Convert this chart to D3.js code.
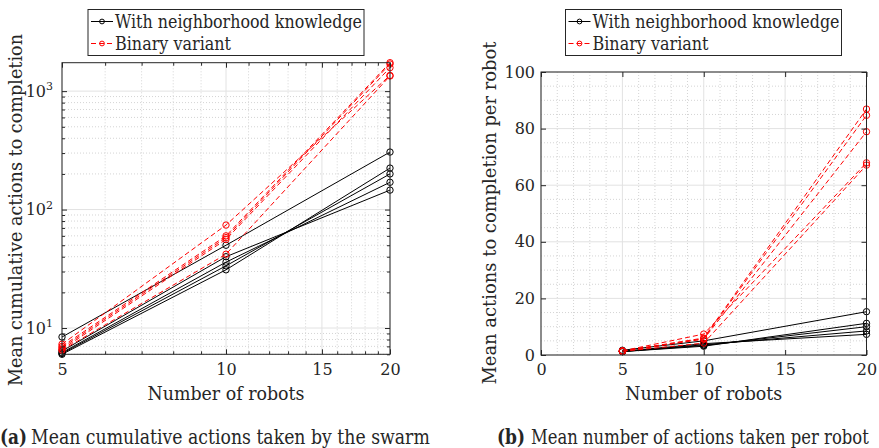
<!DOCTYPE html>
<html>
<head>
<meta charset="utf-8">
<script src="https://cdn.jsdelivr.net/npm/d3@7"></script>
<style>
  body { margin: 0; background: #fff; }
  svg { display: block; }
</style>
</head>
<body>
<svg id="chart" width="879" height="448"></svg>
<script>
const robots = [5, 10, 20]

// (a) mean cumulative actions, one row per run
const neighTotal = [
    [8.4, 50, 306],
    [6.4, 40, 146],
    [6.2, 36, 170],
    [6.1, 33.5, 200],
    [6.0, 31, 224],
]
const binaryTotal = [
    [7.3, 74, 1358],
    [7.0, 60, 1738],
    [6.8, 58, 1694],
    [6.6, 56, 1578],
    [6.5, 42, 1342],
]

// (b) mean actions per robot
const neighPerRobot = [
    [1.68, 5.0, 15.3],
    [1.28, 4.0, 7.3],
    [1.24, 3.6, 8.5],
    [1.22, 3.35, 10.0],
    [1.2, 3.1, 11.2],
]
const binaryPerRobot = [
    [1.46, 7.4, 67.9],
    [1.4, 6.0, 86.9],
    [1.36, 5.8, 84.7],
    [1.32, 5.6, 78.9],
    [1.3, 4.2, 67.1],
]

const legendLabels = ['With neighborhood knowledge', 'Binary variant']
const xTicksA = [5, 10, 15, 20]
const yTicksA = [10, 100, 1000]
const xTicksB = [0, 5, 10, 15, 20]
const yTicksB = [0, 20, 40, 60, 80, 100]

const axisColor = '#262626'
const red = '#ff0000'
const serif = 'DejaVu Serif'

const svg = d3.select('#chart')

function drawPanel(cfg) {
    const { x, y, xMajor, xMinor, yMajor, yMinor, logY } = cfg
    const [x0, x1] = x.range()
    const [y0, y1] = y.range()
    const g = svg.append('g')

    // grid: minor dotted, major solid
    const grid = g.append('g')
    grid.selectAll('.vminor').data(xMinor).join('line')
        .attr('x1', d => x(d)).attr('x2', d => x(d)).attr('y1', y0).attr('y2', y1)
        .attr('stroke', '#d4d4d4').attr('stroke-dasharray', '1,2')
    grid.selectAll('.hminor').data(yMinor).join('line')
        .attr('y1', d => y(d)).attr('y2', d => y(d)).attr('x1', x0).attr('x2', x1)
        .attr('stroke', '#d4d4d4').attr('stroke-dasharray', '1,2')
    grid.selectAll('.vmajor').data(xMajor).join('line')
        .attr('x1', d => x(d)).attr('x2', d => x(d)).attr('y1', y0).attr('y2', y1)
        .attr('stroke', '#e2e2e2')
    grid.selectAll('.hmajor').data(yMajor).join('line')
        .attr('y1', d => y(d)).attr('y2', d => y(d)).attr('x1', x0).attr('x2', x1)
        .attr('stroke', '#e2e2e2')

    // series
    const line = d3.line().x((d, i) => x(robots[i])).y(d => y(d))
    const series = [
        ...cfg.neigh.map(v => ({ v, color: '#000', dash: null })),
        ...cfg.binary.map(v => ({ v, color: red, dash: '5,3' })),
    ]
    series.forEach(s => {
        g.append('path').datum(s.v)
            .attr('d', line).attr('fill', 'none')
            .attr('stroke', s.color).attr('stroke-width', 1)
            .attr('stroke-dasharray', s.dash)
        g.selectAll(null).data(s.v).join('circle')
            .attr('cx', (d, i) => x(robots[i])).attr('cy', d => y(d))
            .attr('r', 3.2).attr('fill', 'none')
            .attr('stroke', s.color).attr('stroke-width', 1)
    })

    // axes with inward ticks on all four sides
    const styleAxis = sel => {
        sel.attr('font-family', serif)
        sel.select('.domain').remove()
        sel.selectAll('line').attr('stroke', axisColor)
        sel.selectAll('text').attr('font-size', 16).attr('fill', axisColor)
    }
    const mk = (axis, tr, ticks, size, labels, pad) => {
        const a = axis.tickValues(ticks).tickSizeInner(-size).tickSizeOuter(0).tickPadding(pad || 9)
        if (!labels) a.tickFormat('')
        return g.append('g').attr('transform', tr).call(a).call(styleAxis)
    }
    mk(d3.axisBottom(x), `translate(0,${y0})`, xMajor, 5, true, 9)
    mk(d3.axisBottom(x), `translate(0,${y0})`, cfg.minorTicksX, 3, false)
    mk(d3.axisTop(x), `translate(0,${y1})`, xMajor, 5, false)
    mk(d3.axisTop(x), `translate(0,${y1})`, cfg.minorTicksX, 3, false)
    const yl = mk(d3.axisLeft(y), `translate(${x0},0)`, yMajor, 5, true, cfg.yPad)
    mk(d3.axisLeft(y), `translate(${x0},0)`, cfg.minorTicksY, 3, false)
    mk(d3.axisRight(y), `translate(${x1},0)`, yMajor, 5, false)
    mk(d3.axisRight(y), `translate(${x1},0)`, cfg.minorTicksY, 3, false)

    if (logY) {
        yl.selectAll('text').each(function (d) {
            const t = d3.select(this).text('')
            t.append('tspan').text('10')
            t.append('tspan').attr('dy', '-0.6em').attr('font-size', 11).text(Math.round(Math.log10(d)))
        })
    }

    g.append('rect')
        .attr('x', x0).attr('y', y1).attr('width', x1 - x0).attr('height', y0 - y1)
        .attr('fill', 'none').attr('stroke', axisColor).attr('stroke-width', 1)

    // labels
    g.append('text')
        .attr('x', (x0 + x1) / 2).attr('y', 400)
        .attr('text-anchor', 'middle').attr('font-size', 18)
        .attr('textLength', 157).attr('lengthAdjust', 'spacingAndGlyphs')
        .text('Number of robots')
    g.append('text')
        .attr('transform', `translate(${cfg.yLabelX},${cfg.yLabelY}) rotate(-90)`)
        .attr('text-anchor', 'middle').attr('font-size', 18)
        .attr('textLength', cfg.yLabelLen).attr('lengthAdjust', 'spacingAndGlyphs')
        .text(cfg.yLabel)

    // legend
    const lg = g.append('g').attr('transform', `translate(${cfg.legendX},9.5)`)
    lg.append('rect').attr('width', 276).attr('height', 46)
        .attr('fill', '#fff').attr('stroke', axisColor)
    legendLabels.forEach((lab, i) => {
        const cy = 12 + i * 22
        const col = i === 0 ? '#000' : red
        lg.append('line').attr('x1', 3).attr('x2', 25).attr('y1', cy).attr('y2', cy)
            .attr('stroke', col).attr('stroke-dasharray', i === 0 ? null : '5,3')
        lg.append('circle').attr('cx', 14).attr('cy', cy).attr('r', 2.4)
            .attr('fill', 'none').attr('stroke', col)
        lg.append('text').attr('x', 27).attr('y', cy + 6).attr('font-size', 18)
            .attr('textLength', i === 0 ? 247 : 116).attr('lengthAdjust', 'spacingAndGlyphs')
            .text(lab)
    })
}

// (a) log-log panel
const allA = [...neighTotal.flat(), ...binaryTotal.flat()]
const xA = d3.scaleLog().domain([5, 20]).range([62, 390])
const yA = d3.scaleLog().domain(d3.extent(allA)).range([354.3, 62.7])
const decadeMinor = [6, 7, 8, 9, 20, 30, 40, 50, 60, 70, 80, 90, 200, 300, 400, 500, 600, 700, 800, 900]
const intMinorA = d3.range(6, 20).filter(d => d % 5 !== 0)
drawPanel({
    x: xA, y: yA, logY: true,
    xMajor: xTicksA, xMinor: intMinorA, minorTicksX: intMinorA,
    yMajor: yTicksA, yMinor: decadeMinor, minorTicksY: decadeMinor,
    yPad: 9,
    neigh: neighTotal, binary: binaryTotal,
    yLabel: 'Mean cumulative actions to completion', yLabelX: 22, yLabelY: 210, yLabelLen: 352,
    legendX: 88,
})

// (b) linear panel
const xB = d3.scaleLinear().domain([0, 20]).range([541, 866.5])
const yB = d3.scaleLinear().domain([0, 100]).range([355, 72])
const xMinorB = d3.range(1, 20).filter(d => d % 5 !== 0)
const yMinorB = d3.range(5, 100, 5).filter(d => d % 20 !== 0)
drawPanel({
    x: xB, y: yB, logY: false,
    xMajor: xTicksB, xMinor: xMinorB, minorTicksX: [],
    yMajor: yTicksB, yMinor: yMinorB, minorTicksY: [],
    yPad: 6,
    neigh: neighPerRobot, binary: binaryPerRobot,
    yLabel: 'Mean actions to completion per robot', yLabelX: 496, yLabelY: 213, yLabelLen: 343,
    legendX: 565.5,
})

// serif everywhere (axis groups set sans-serif by default)
svg.attr('font-family', serif)
svg.selectAll('text, tspan').attr('font-family', serif).style('fill', axisColor)

// captions: bold tag + text, squeezed horizontally with a scale transform
const captions = [
    { tag: '(a)', text: 'Mean cumulative actions taken by the swarm', x: 0, tagLen: 27, textX: 31, textLen: 399 },
    { tag: '(b)', text: 'Mean number of actions taken per robot', x: 497, tagLen: 28, textX: 531, textLen: 338 },
]
const squeeze = (px, len, str, bold) => {
    const t = svg.append('text').attr('font-size', 20).attr('font-family', serif)
        .attr('font-weight', bold ? 'bold' : null).style('fill', axisColor).text(str)
    const sx = len / t.node().getComputedTextLength()
    t.attr('transform', `translate(${px},444) scale(${sx},1)`)
}
captions.forEach(c => {
    squeeze(c.x, c.tagLen, c.tag, true)
    squeeze(c.textX, c.textLen, c.text, false)
})
</script>
</body>
</html>
